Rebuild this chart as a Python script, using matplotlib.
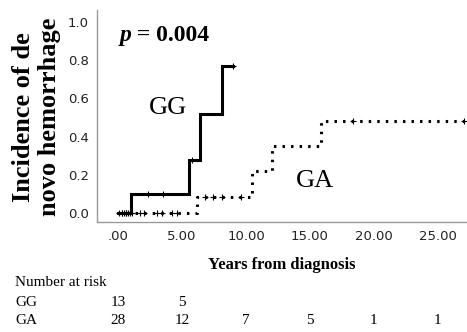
import numpy as np
import matplotlib
matplotlib.use("Agg")
import matplotlib.pyplot as plt
import matplotlib.transforms as mtransforms

# step curves (event times and cumulative incidence after each step)
gg_times = [0.0, 1.0, 5.55, 6.4, 8.1, 9.0]
gg_values = [0.0, 0.10, 0.28, 0.52, 0.77, 0.77]
gg_censor = [0.1, 0.3, 0.45, 0.6, 0.75, 2.35, 3.5, 5.8, 9.0]

ga_times = [0.0, 6.2, 10.5, 12.0, 15.9, 27.1]
ga_values = [0.0, 0.085, 0.22, 0.35, 0.48, 0.48]
ga_censor = [0.3, 0.6, 0.9, 1.1, 1.7, 2.0, 3.0, 3.4, 4.2, 4.6,
             6.8, 7.4, 8.1, 9.6, 18.4, 27.1]

x_ticks = [0, 5, 10, 15, 20, 25]
x_ticklabels = [".00", "5.00", "10.00", "15.00", "20.00", "25.00"]
y_ticks = [0.0, 0.2, 0.4, 0.6, 0.8, 1.0]

risk_times = [0, 5, 10, 15, 20, 25]
risk_gg = ["13", "5"]
risk_ga = ["28", "12", "7", "5", "1", "1"]


def step_value(times, values, t):
    idx = np.searchsorted(times, t, side="right") - 1
    return np.array(values)[idx]


serif = "Liberation Serif"

fig = plt.figure(figsize=(4.67, 3.32), dpi=100)
ax = fig.add_axes([0.208, 0.331, 0.792, 0.639])

ax.plot(gg_times, gg_values, drawstyle="steps-post", color="black", lw=2.2,
        solid_joinstyle="miter")
ax.plot(ga_times, ga_values, drawstyle="steps-post", color="black", lw=2.2,
        linestyle=(0, (0.8, 2.0)))
ax.plot(gg_censor, step_value(gg_times, gg_values, gg_censor), "+",
        color="black", ms=5, mew=0.8)
ax.plot(ga_censor, step_value(ga_times, ga_values, ga_censor), "+",
        color="black", ms=5, mew=0.8)

ax.set_xlim(-1.65, 27.3)
ax.set_ylim(-0.047, 1.063)
ax.set_xticks(x_ticks)
ax.set_xticklabels(x_ticklabels)
ax.set_yticks(y_ticks)
ax.set_yticklabels([f"{v:.1f}" for v in y_ticks])
ax.tick_params(length=0, labelsize=9.5, labelcolor="#222222", pad=6)

for side in ["top", "right"]:
    ax.spines[side].set_visible(False)
for side in ["left", "bottom"]:
    ax.spines[side].set_color("#999999")
    ax.spines[side].set_linewidth(1.0)

p_txt = ax.text(0.1, 0.93, "p", fontfamily=serif, fontweight="bold",
                fontstyle="italic", fontsize=17, va="center", ha="left")
ax.annotate(" = 0.004", xy=(1, 0), xycoords=p_txt, va="bottom", ha="left",
            fontfamily=serif, fontweight="bold", fontsize=17)
ax.text(2.4, 0.55, "GG", fontfamily=serif, fontsize=19, va="center")
ax.text(13.9, 0.17, "GA", fontfamily=serif, fontsize=19, va="center")

fig.text(0.078, 0.647, "Incidence of de\nnovo hemorrhage", rotation=90,
         fontfamily=serif, fontweight="bold", fontsize=19, ha="center",
         va="center", linespacing=1.2)

ax.set_xlabel("Years from diagnosis", fontfamily=serif, fontweight="bold",
              fontsize=12, labelpad=10)

trans = mtransforms.blended_transform_factory(ax.transData, fig.transFigure)
fig.text(0.032, 0.148, "Number at risk", fontfamily=serif, fontsize=11,
         va="center")
fig.text(0.032, 0.090, "GG", fontfamily=serif, fontsize=11, va="center")
fig.text(0.032, 0.036, "GA", fontfamily=serif, fontsize=11, va="center")
for t, n in zip(risk_times, risk_gg):
    ax.text(t, 0.090, n, transform=trans, fontfamily=serif, fontsize=11,
            ha="center", va="center")
for t, n in zip(risk_times, risk_ga):
    ax.text(t, 0.036, n, transform=trans, fontfamily=serif, fontsize=11,
            ha="center", va="center")

fig.savefig("out.png", dpi=100)
